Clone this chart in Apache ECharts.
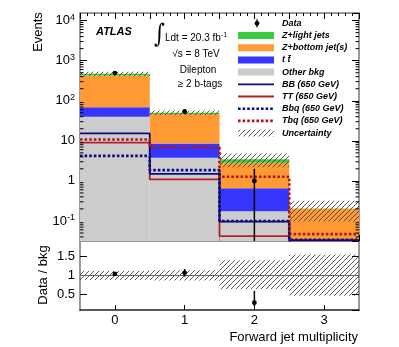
<!DOCTYPE html>
<html>
<head>
<meta charset="utf-8">
<script src="https://cdn.jsdelivr.net/npm/echarts@6/dist/echarts.min.js"></script>
<style>
  html, body { margin: 0; padding: 0; background: #fff; }
  #chart { width: 399px; height: 347px; }
</style>
</head>
<body>
<div id="chart"></div>
<script>
// bins: forward jet multiplicity 0..3
const bins = [0, 1, 2, 3];
const otherBkg = [40, 3.8, 0.174, 0.004];
const ttbar = [29, 4.8, 0.48, 0.002];
const zBottom = [356, 37.9, 2.19, 0.197];
const zLight = [45, 3.5, 0.6, 0.003];
const dataVals = [490, 54, 1, 0];
const dataErr = [22, 7.3, 1.0, 0];
const sigBB = [15.3, 1.5, 0.096, 0.033];
const sigTT = [9.0, 1.09, 0.042, 0.01];
const sigBbq = [4.2, 1.86, 0.1, 0.034];
const sigTbq = [10.8, 6.9, 1.27, 0.047];
// relative uncertainty band (also used in ratio panel)
const uncLow = [0.88, 0.87, 0.64, 0.47];
const uncHigh = [1.12, 1.14, 1.40, 1.55];
const ratioVals = [1.04, 1.07, 0.29, null];
const ratioErrLow = [0.04, 0.1, 0.09, 0];
const ratioErrHigh = [0.04, 0.1, 0.31, 0];
const xTickLabels = [0, 1, 2, 3];

const yMin = 0.0316, yMax = 15500;
const FONT = '"Liberation Sans", Arial, sans-serif';

const chart = echarts.init(document.getElementById('chart'));

// hatch pattern for uncertainty
function makeHatch() {
  const c = document.createElement('canvas');
  c.width = 5; c.height = 5;
  const g = c.getContext('2d');
  g.strokeStyle = '#333';
  g.lineWidth = 0.8;
  g.beginPath();
  g.moveTo(0, 5); g.lineTo(5, 0);
  g.moveTo(-1, 1); g.lineTo(1, -1);
  g.moveTo(4, 6); g.lineTo(6, 4);
  g.stroke();
  return c;
}
const hatch = { image: makeHatch(), repeat: 'repeat' };

// cumulative stack
const c1 = otherBkg.slice();
const c2 = c1.map((v, i) => v + ttbar[i]);
const c3 = c2.map((v, i) => v + zBottom[i]);
const c4 = c3.map((v, i) => v + zLight[i]);

function boxSeries(lows, highs, fill, xi, yi, lo) {
  return {
    type: 'custom',
    xAxisIndex: xi,
    yAxisIndex: yi,
    data: bins.map((b, i) => [b, highs[i]]),
    encode: { x: 0, y: 1 },
    silent: true,
    renderItem: function (params, api) {
      const i = params.dataIndex;
      const x = bins[i];
      const l = Math.max(lows[i], lo);
      const h = highs[i];
      if (!(h > lo)) return { type: 'group', children: [] };
      const p0 = api.coord([x - 0.5, h]);
      const p1 = api.coord([x + 0.5, l]);
      return {
        type: 'rect',
        shape: { x: p0[0], y: p0[1], width: p1[0] - p0[0], height: p1[1] - p0[1] },
        style: { fill: fill }
      };
    }
  };
}

function stepLine(vals, color, dotted) {
  const pts = [];
  vals.forEach((v, i) => { pts.push([bins[i] - 0.5, v]); pts.push([bins[i] + 0.5, v]); });
  return {
    type: 'line',
    xAxisIndex: 0, yAxisIndex: 0,
    data: pts,
    symbol: 'none',
    silent: true,
    clip: true,
    lineStyle: dotted
      ? { color: color, width: 2.6, type: [2.6, 2], cap: 'butt' }
      : { color: color, width: 1.8 }
  };
}

function pointSeries(vals, lowErr, highErr, xi, yi, lo) {
  const idx = [];
  bins.forEach((b, i) => { if (vals[i] != null && vals[i] > 0) idx.push(i); });
  return {
    type: 'custom',
    xAxisIndex: xi, yAxisIndex: yi,
    data: idx.map(i => [bins[i], vals[i]]),
    encode: { x: 0, y: 1 },
    silent: true,
    z: 4,
    renderItem: function (params, api) {
      const i = idx[params.dataIndex];
      const x = bins[i];
      const c = api.coord([x, vals[i]]);
      const a = api.coord([x, Math.max(vals[i] - lowErr[i], lo)]);
      const b = api.coord([x, vals[i] + highErr[i]]);
      return {
        type: 'group',
        children: [
          { type: 'line', shape: { x1: c[0], y1: a[1], x2: c[0], y2: b[1] }, style: { stroke: '#000', lineWidth: 1.5 } },
          { type: 'circle', shape: { cx: c[0], cy: c[1], r: 2.4 }, style: { fill: '#000' } }
        ]
      };
    }
  };
}

// minor ticks on log axis (2..9 x 10^k)
const minorVals = [];
for (let e = -2; e <= 4; e++) {
  for (let m = 2; m <= 9; m++) {
    const v = m * Math.pow(10, e);
    if (v > yMin && v < yMax) minorVals.push(v);
  }
}
const minorTickSeries = {
  type: 'custom',
  xAxisIndex: 0, yAxisIndex: 0,
  data: minorVals.map(v => [-0.5, v]),
  encode: { x: 0, y: 1 },
  silent: true,
  z: 5,
  renderItem: function (params, api) {
    const v = minorVals[params.dataIndex];
    const p = api.coord([-0.5, v]);
    const q = api.coord([3.5, v]);
    return {
      type: 'group',
      children: [
        { type: 'line', shape: { x1: p[0], y1: p[1], x2: p[0] + 3.5, y2: p[1] }, style: { stroke: '#000', lineWidth: 1 } },
        { type: 'line', shape: { x1: q[0] - 3.5, y1: q[1], x2: q[0], y2: q[1] }, style: { stroke: '#000', lineWidth: 1 } }
      ]
    };
  }
};

function logLabel(v) {
  const e = Math.round(Math.log10(v));
  if (e === 0) return '1';
  if (e === 1) return '10';
  return '{b|10}{s|' + e + '}';
}

const frameGray = '#999';
const tickStyle = { color: '#000', width: 1 };

function xAxisMain(pos) {
  return {
    type: 'value', gridIndex: 0, position: pos,
    min: -0.5, max: 3.5, interval: 0.5,
    axisLine: { onZero: false, lineStyle: { color: frameGray, width: 2 } },
    axisTick: { inside: true, length: 6, lineStyle: tickStyle },
    minorTick: { show: true, splitNumber: 5, length: 3, lineStyle: tickStyle },
    axisLabel: { show: false },
    splitLine: { show: false }
  };
}

function yAxisMain(pos) {
  return {
    type: 'log', gridIndex: 0, position: pos, logBase: 10,
    min: yMin, max: yMax,
    axisLine: { onZero: false, lineStyle: { color: frameGray, width: 2 } },
    axisTick: { inside: true, length: 7, lineStyle: tickStyle },
    axisLabel: pos === 'left' ? {
      show: true, margin: 5, showMinLabel: false, showMaxLabel: false,
      formatter: logLabel, color: '#000', fontFamily: FONT, fontSize: 13,
      rich: {
        b: { fontSize: 13, fontFamily: FONT, color: '#000', lineHeight: 16 },
        s: { fontSize: 9, fontFamily: FONT, color: '#000', lineHeight: 9, verticalAlign: 'top' }
      }
    } : { show: false },
    splitLine: { show: false }
  };
}

function yAxisRatio(pos) {
  return {
    type: 'value', gridIndex: 1, position: pos,
    min: 0.1, max: 1.9, splitNumber: 4,
    axisLine: { onZero: false, lineStyle: { color: frameGray, width: 2 } },
    axisTick: { inside: true, length: 7, lineStyle: tickStyle },
    axisLabel: pos === 'left'
      ? { margin: 5, showMinLabel: false, showMaxLabel: false, color: '#000', fontFamily: FONT, fontSize: 13 }
      : { show: false },
    splitLine: { show: false }
  };
}

const hatchMain = boxSeries(c4.map((v, i) => v * uncLow[i]), c4.map((v, i) => v * uncHigh[i]), hatch, 0, 0, yMin);

const option = {
  animation: false,
  backgroundColor: '#fff',
  grid: [
    { left: 80, right: 40, top: 13, height: 228 },
    { left: 80, right: 40, top: 241, height: 69 }
  ],
  xAxis: [
    xAxisMain('bottom'),
    xAxisMain('top'),
    {
      type: 'value', gridIndex: 1, position: 'bottom',
      min: -0.5, max: 3.5, interval: 0.5,
      axisLine: { onZero: false, lineStyle: { color: '#222', width: 1.5 } },
      axisTick: { inside: true, length: 5, lineStyle: tickStyle, customValues: xTickLabels },
      axisLabel: {
        margin: 4, color: '#000', fontFamily: FONT, fontSize: 13,
        customValues: xTickLabels,
        formatter: v => (Math.abs(v - Math.round(v)) < 1e-6 ? String(Math.round(v)) : '')
      },
      splitLine: { show: false }
    }
  ],
  yAxis: [
    yAxisMain('left'),
    yAxisMain('right'),
    yAxisRatio('left'),
    yAxisRatio('right')
  ],
  series: [
    boxSeries(bins.map(() => yMin), c1, '#cccccc', 0, 0, yMin),
    boxSeries(c1, c2, '#3535fb', 0, 0, yMin),
    boxSeries(c2, c3, '#ff9a35', 0, 0, yMin),
    boxSeries(c3, c4, '#3ccc3c', 0, 0, yMin),
    hatchMain,
    stepLine(sigTT, '#b22222', false),
    stepLine(sigBB, '#0c0c80', false),
    stepLine(sigTbq, '#b01818', true),
    stepLine(sigBbq, '#0c0c80', true),
    pointSeries(dataVals, dataErr, dataErr, 0, 0, yMin),
    minorTickSeries,
    // ratio panel
    boxSeries(uncLow, uncHigh, hatch, 2, 2, 0.1),
    {
      type: 'line', xAxisIndex: 2, yAxisIndex: 2,
      data: [[-0.5, 1], [3.5, 1]], symbol: 'none', silent: true,
      lineStyle: { color: '#666', width: 1 }
    },
    pointSeries(ratioVals, ratioErrLow, ratioErrHigh, 2, 2, 0.1)
  ],
  graphic: [
    { type: 'text', x: 38, y: 32, rotation: Math.PI / 2,
      style: { text: 'Events', font: '13px ' + FONT, fill: '#000', align: 'center', verticalAlign: 'middle' } },
    { type: 'text', x: 43, y: 275, rotation: Math.PI / 2,
      style: { text: 'Data / bkg', font: '13px ' + FONT, fill: '#000', align: 'center', verticalAlign: 'middle' } },
    { type: 'text', x: 358, y: 337,
      style: { text: 'Forward jet multiplicity', font: '13px ' + FONT, fill: '#000', align: 'right', verticalAlign: 'middle' } },
    { type: 'text', x: 96, y: 32,
      style: { text: 'ATLAS', font: 'italic bold 11px ' + FONT, fill: '#000', verticalAlign: 'middle' } },
    { type: 'text', x: 154, y: 35, scaleX: 0.8,
      style: { text: '\u222B', font: '26px "DejaVu Serif"', fill: '#000', verticalAlign: 'middle' } },
    { type: 'text', x: 165, y: 38,
      style: {
        text: '{a|Ldt = 20.3 fb}{s|-1}', verticalAlign: 'middle',
        rich: {
          a: { font: '10px ' + FONT, fill: '#000', lineHeight: 13 },
          s: { font: '7px ' + FONT, fill: '#000', lineHeight: 7, verticalAlign: 'top' }
        }
      } },
    { type: 'text', x: 196, y: 54,
      style: { text: '\u221As = 8 TeV', font: '10px ' + FONT, fill: '#000', align: 'center', verticalAlign: 'middle' } },
    { type: 'text', x: 198, y: 70,
      style: { text: 'Dilepton', font: '10px ' + FONT, fill: '#000', align: 'center', verticalAlign: 'middle' } },
    { type: 'text', x: 200, y: 84,
      style: { text: '\u2265 2 b-tags', font: '10px ' + FONT, fill: '#000', align: 'center', verticalAlign: 'middle' } }
  ]
};

// legend (drawn as graphic elements)
const legendRows = [
  { label: 'Data', kind: 'data' },
  { label: 'Z+light jets', kind: 'box', color: '#3ccc3c' },
  { label: 'Z+bottom jet(s)', kind: 'box', color: '#ff9a35' },
  { label: 't t\u0304', kind: 'box', color: '#3535fb' },
  { label: 'Other bkg', kind: 'box', color: '#cccccc' },
  { label: 'BB (650 GeV)', kind: 'line', color: '#0c0c80' },
  { label: 'TT (650 GeV)', kind: 'line', color: '#b22222' },
  { label: 'Bbq (650 GeV)', kind: 'dot', color: '#0c0c80' },
  { label: 'Tbq (650 GeV)', kind: 'dot', color: '#b01818' },
  { label: 'Uncertainty', kind: 'hatch' }
];
const lx0 = 238, lx1 = 274, ltx = 282;
legendRows.forEach((r, i) => {
  const y = 23.3 + i * 12.2;
  if (r.kind === 'data') {
    option.graphic.push({ type: 'line', shape: { x1: 257, y1: y - 4, x2: 257, y2: y + 4 }, style: { stroke: '#000', lineWidth: 1.3 } });
    option.graphic.push({ type: 'circle', shape: { cx: 257, cy: y, r: 2.4 }, style: { fill: '#000' } });
  } else if (r.kind === 'box') {
    option.graphic.push({ type: 'rect', shape: { x: lx0, y: y - 3.5, width: lx1 - lx0, height: 7 }, style: { fill: r.color } });
  } else if (r.kind === 'hatch') {
    option.graphic.push({ type: 'rect', shape: { x: lx0, y: y - 3.5, width: lx1 - lx0, height: 7 }, style: { fill: hatch } });
  } else if (r.kind === 'line') {
    option.graphic.push({ type: 'line', shape: { x1: lx0, y1: y, x2: lx1, y2: y }, style: { stroke: r.color, lineWidth: 1.8 } });
  } else {
    option.graphic.push({ type: 'line', shape: { x1: lx0, y1: y, x2: lx1, y2: y }, style: { stroke: r.color, lineWidth: 2.6, lineDash: [2.6, 2] } });
  }
  option.graphic.push({ type: 'text', x: ltx, y: y,
    style: { text: r.label, font: 'italic bold 9px ' + FONT, fill: '#000', verticalAlign: 'middle' } });
});

chart.setOption(option);
</script>
</body>
</html>
